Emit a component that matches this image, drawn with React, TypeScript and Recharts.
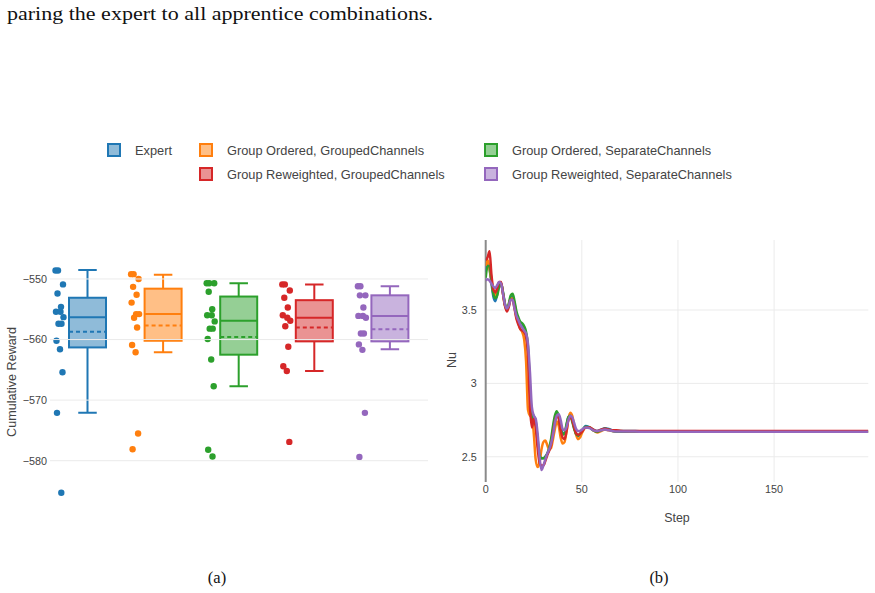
import React from 'react';
import {
  ComposedChart,
  Bar,
  XAxis,
  YAxis,
  LineChart,
  Line,
  ReferenceLine,
} from 'recharts';

// ---------- series ----------
const groupNames = [
  'Expert',
  'Group Ordered, GroupedChannels',
  'Group Ordered, SeparateChannels',
  'Group Reweighted, GroupedChannels',
  'Group Reweighted, SeparateChannels',
];
const groupColors = ['#1f77b4', '#ff7f0e', '#2ca02c', '#d62728', '#9467bd'];
const groupFills = [
  'rgba(31,119,180,0.5)',
  'rgba(255,127,14,0.5)',
  'rgba(44,160,44,0.5)',
  'rgba(214,39,40,0.5)',
  'rgba(148,103,189,0.5)',
];

// ---------- (a) cumulative reward box statistics ----------
const upperFence = [-548.5, -549.3, -550.7, -550.9, -551.2];
const q3 = [-553.1, -551.6, -552.9, -553.5, -552.7];
const median = [-556.3, -555.8, -556.9, -556.4, -556.1];
const mean = [-558.7, -557.7, -559.6, -558.0, -558.3];
const q1 = [-561.3, -560.2, -562.5, -560.3, -560.3];
const lowerFence = [-572.1, -562.1, -567.7, -565.2, -561.6];

const expertRewards = [-548.6, -548.6, -550.9, -552.4, -554.6, -555.4, -555.4, -556.3, -557.4, -557.4, -560.2, -561.6, -565.4, -572.1, -585.3];
const orderedGroupedRewards = [-549.2, -549.2, -550.0, -551.3, -552.6, -553.9, -555.8, -555.8, -556.4, -558.0, -560.9, -562.1, -575.5, -578.1];
const orderedSeparateRewards = [-550.7, -550.7, -550.7, -552.1, -555.0, -556.0, -556.0, -557.0, -558.2, -558.2, -559.9, -563.3, -567.7, -578.2, -579.3];
const reweightedGroupedRewards = [-550.9, -550.9, -551.9, -553.1, -554.7, -556.0, -556.4, -556.9, -557.8, -561.2, -564.4, -565.2, -576.9];
const reweightedSeparateRewards = [-551.2, -551.2, -552.7, -552.7, -554.7, -556.1, -556.1, -556.4, -559.0, -559.0, -560.8, -561.7, -572.1, -579.4];
const rewardPoints = [
  expertRewards,
  orderedGroupedRewards,
  orderedSeparateRewards,
  reweightedGroupedRewards,
  reweightedSeparateRewards,
];
const rewardTicks = [-580, -570, -560, -550];

// ---------- (b) Nusselt number over the episode ----------
const steps = [
  0, 1, 2, 3, 4, 5, 6, 7, 8, 9, 10, 11, 12, 13, 14, 15, 16, 17, 18, 19, 20,
  21, 22, 23, 24, 25, 26, 27, 28, 29, 30, 31, 32, 33, 34, 35, 36, 37, 38, 39, 40,
  41, 42, 43, 44, 45, 46, 47, 48, 49, 50, 52, 54, 56, 58, 60, 62, 64, 66, 68, 70,
  75, 80, 90, 100, 120, 150, 199,
];
const expertNu = [
  3.76, 3.82, 3.78, 3.68, 3.59, 3.56, 3.61, 3.67, 3.68, 3.62, 3.54,
  3.50, 3.53, 3.58, 3.59, 3.54, 3.47, 3.43, 3.40, 3.39, 3.37,
  3.33, 3.22, 2.95, 2.79, 2.78, 2.74, 2.62, 2.52, 2.49, 2.49,
  2.50, 2.52, 2.55, 2.60, 2.68, 2.76, 2.80, 2.78, 2.71, 2.66,
  2.66, 2.71, 2.77, 2.78, 2.75, 2.70, 2.66, 2.64, 2.65, 2.67,
  2.71, 2.70, 2.685, 2.675, 2.685, 2.695, 2.69, 2.68, 2.675, 2.675,
  2.676, 2.674, 2.673, 2.672, 2.672, 2.672, 2.672,
];
const orderedGroupedNu = [
  3.80, 3.84, 3.78, 3.70, 3.62, 3.60, 3.63, 3.68, 3.68, 3.61, 3.53,
  3.51, 3.54, 3.58, 3.58, 3.52, 3.45, 3.41, 3.37, 3.35, 3.30,
  3.15, 2.82, 2.78, 2.77, 2.66, 2.48, 2.43, 2.46, 2.55, 2.60,
  2.61, 2.58, 2.55, 2.56, 2.62, 2.69, 2.74, 2.71, 2.63, 2.59,
  2.60, 2.67, 2.76, 2.80, 2.78, 2.71, 2.65, 2.62, 2.63, 2.66,
  2.70, 2.70, 2.68, 2.665, 2.675, 2.685, 2.68, 2.675, 2.67, 2.67,
  2.672, 2.671, 2.671, 2.671, 2.671, 2.671, 2.671,
];
const orderedSeparateNu = [
  3.72, 3.80, 3.80, 3.70, 3.61, 3.58, 3.60, 3.66, 3.68, 3.62, 3.54,
  3.50, 3.54, 3.60, 3.61, 3.56, 3.49, 3.45, 3.42, 3.41, 3.39,
  3.35, 3.25, 2.98, 2.77, 2.74, 2.73, 2.60, 2.51, 2.49, 2.49,
  2.50, 2.52, 2.56, 2.62, 2.71, 2.78, 2.81, 2.77, 2.69, 2.65,
  2.66, 2.72, 2.77, 2.78, 2.74, 2.69, 2.655, 2.645, 2.655, 2.675,
  2.705, 2.70, 2.68, 2.67, 2.68, 2.69, 2.685, 2.675, 2.67, 2.67,
  2.672, 2.672, 2.671, 2.671, 2.671, 2.671, 2.671,
];
const reweightedGroupedNu = [
  3.84, 3.86, 3.90, 3.74, 3.64, 3.62, 3.65, 3.69, 3.69, 3.61, 3.53,
  3.49, 3.52, 3.57, 3.57, 3.51, 3.44, 3.40, 3.37, 3.36, 3.35,
  3.32, 3.20, 2.85, 2.70, 2.76, 2.70, 2.56, 2.46, 2.44, 2.44,
  2.47, 2.51, 2.54, 2.58, 2.66, 2.74, 2.78, 2.76, 2.68, 2.63,
  2.62, 2.67, 2.75, 2.77, 2.75, 2.70, 2.66, 2.65, 2.655, 2.67,
  2.70, 2.70, 2.685, 2.675, 2.685, 2.69, 2.685, 2.68, 2.68, 2.678,
  2.676, 2.675, 2.675, 2.675, 2.675, 2.675, 2.675,
];
const reweightedSeparateNu = [
  3.70, 3.71, 3.70, 3.68, 3.66, 3.65, 3.67, 3.69, 3.68, 3.61, 3.54,
  3.51, 3.53, 3.57, 3.57, 3.51, 3.46, 3.43, 3.40, 3.38, 3.36,
  3.34, 3.27, 3.08, 2.84, 2.78, 2.76, 2.66, 2.50, 2.41, 2.44,
  2.48, 2.52, 2.55, 2.59, 2.65, 2.73, 2.78, 2.79, 2.75, 2.69,
  2.68, 2.70, 2.75, 2.78, 2.77, 2.73, 2.69, 2.675, 2.675, 2.685,
  2.70, 2.695, 2.68, 2.675, 2.68, 2.685, 2.68, 2.675, 2.672, 2.672,
  2.672, 2.671, 2.671, 2.671, 2.671, 2.671, 2.671,
];
const nuSeries = [
  expertNu,
  orderedGroupedNu,
  orderedSeparateNu,
  reweightedGroupedNu,
  reweightedSeparateNu,
];
const stepTicks = [0, 50, 100, 150];
const nuTicks = [2.5, 3, 3.5];

// ---------- tables built for recharts ----------
const boxRows = groupNames.map((name, i) => ({
  name,
  box: [q1[i], q3[i]],
  q1: q1[i],
  q3: q3[i],
  median: median[i],
  mean: mean[i],
  hi: upperFence[i],
  lo: lowerFence[i],
  points: rewardPoints[i],
  idx: i,
}));

const nuRows = steps.map((step, k) => {
  const row: Record<string, number> = { step };
  nuSeries.forEach((s, i) => {
    row['s' + i] = s[k];
  });
  return row;
});

// ---------- styling ----------
const SANS = '"Liberation Sans", Arial, Helvetica, sans-serif';
const SERIF = '"Liberation Serif", "DejaVu Serif", serif';
const TEXT = '#444';
const GRID = '#ebebeb';
const POINT_SHIFT = -28; // strip of raw points sits left of each box
const JITTER = [-4, -1.5, 3.5, -2, 1.5, -3.5, 1, 4, -1, 2, -3, 0.5, 3, -2.5, 1.8];

const minusFmt = (v: number) => String(v).replace('-', '\u2212');

function BoxShape(props: any) {
  const { x, y, width, height, payload } = props;
  const top = Math.min(y, y + height);
  const h = Math.abs(height);
  const p = payload;
  const toY = (v: number) => top + ((p.q3 - v) / (p.q3 - p.q1)) * h;
  const cx = x + width / 2;
  const color = groupColors[p.idx];
  const cap = width / 4;
  return (
    <g>
      {/* whiskers */}
      <line x1={cx} x2={cx} y1={toY(p.hi)} y2={toY(p.q3)} stroke={color} strokeWidth={2} />
      <line x1={cx} x2={cx} y1={toY(p.q1)} y2={toY(p.lo)} stroke={color} strokeWidth={2} />
      <line x1={cx - cap} x2={cx + cap} y1={toY(p.hi)} y2={toY(p.hi)} stroke={color} strokeWidth={2} />
      <line x1={cx - cap} x2={cx + cap} y1={toY(p.lo)} y2={toY(p.lo)} stroke={color} strokeWidth={2} />
      {/* box */}
      <rect x={x} y={top} width={width} height={h} fill={groupFills[p.idx]} stroke={color} strokeWidth={2} />
      <line x1={x} x2={x + width} y1={toY(p.median)} y2={toY(p.median)} stroke={color} strokeWidth={2} />
      <line
        x1={x}
        x2={x + width}
        y1={toY(p.mean)}
        y2={toY(p.mean)}
        stroke={color}
        strokeWidth={2}
        strokeDasharray="4,3"
      />
      {/* raw samples */}
      {p.points.map((v: number, k: number) => (
        <circle
          key={k}
          cx={cx + POINT_SHIFT + JITTER[k % JITTER.length]}
          cy={toY(v)}
          r={3.2}
          fill={color}
        />
      ))}
    </g>
  );
}

function LegendItem({ i, left, top }: { i: number; left: number; top: number }) {
  return (
    <div
      style={{
        position: 'absolute',
        left,
        top,
        display: 'flex',
        alignItems: 'center',
        height: 16,
        fontFamily: SANS,
        fontSize: 12.8,
        color: TEXT,
        whiteSpace: 'nowrap',
      }}
    >
      <div
        style={{
          width: 10,
          height: 10,
          border: `2px solid ${groupColors[i]}`,
          background: groupFills[i],
          marginRight: 14,
        }}
      />
      <span>{groupNames[i]}</span>
    </div>
  );
}

export default function App() {
  return (
    <div
      style={{
        position: 'absolute',
        left: 0,
        top: 0,
        width: 875,
        height: 593,
        background: '#fff',
        overflow: 'hidden',
      }}
    >
      <svg width={875} height={593} style={{ position: 'absolute', left: 0, top: 0 }}>
        <text
          x={7}
          y={20}
          fontFamily={SERIF}
          fontSize={18.5}
          fill="#111"
          textLength={426}
          lengthAdjust="spacingAndGlyphs"
        >
          paring the expert to all apprentice combinations.
        </text>
        <text
          x={12}
          y={382}
          transform="rotate(-90 12 382)"
          textAnchor="middle"
          dominantBaseline="central"
          fontFamily={SANS}
          fontSize={12.6}
          fill={TEXT}
        >
          Cumulative Reward
        </text>
        <text
          x={452}
          y={360}
          transform="rotate(-90 452 360)"
          textAnchor="middle"
          dominantBaseline="central"
          fontFamily={SANS}
          fontSize={12.6}
          fill={TEXT}
        >
          Nu
        </text>
        <text x={677} y={518} textAnchor="middle" dominantBaseline="central" fontFamily={SANS} fontSize={12.4} fill={TEXT}>
          Step
        </text>
        <text x={217} y={583} textAnchor="middle" fontFamily={SERIF} fontSize={16.5} fill="#111">
          (a)
        </text>
        <text x={659} y={583} textAnchor="middle" fontFamily={SERIF} fontSize={16.5} fill="#111">
          (b)
        </text>
      </svg>

      <LegendItem i={0} left={107} top={142} />
      <LegendItem i={1} left={199} top={142} />
      <LegendItem i={2} left={484} top={142} />
      <LegendItem i={3} left={199} top={166} />
      <LegendItem i={4} left={484} top={166} />

      <div style={{ position: 'absolute', left: 0, top: 230 }}>
        <ComposedChart
          width={440}
          height={310}
          data={boxRows}
          margin={{ top: 30.8, right: 12, bottom: 36.9, left: 0 }}
        >
          <XAxis dataKey="name" hide />
          <YAxis
            type="number"
            domain={[-587, -547]}
            ticks={rewardTicks}
            allowDataOverflow
            width={50}
            axisLine={false}
            tickLine={false}
            tickSize={0}
            tickMargin={3}
            tickFormatter={minusFmt}
            tick={{ fill: TEXT, fontSize: 10.8, fontFamily: SANS }}
          />
          {rewardTicks.map((t) => (
            <ReferenceLine key={t} y={t} stroke={GRID} strokeWidth={1} />
          ))}
          <Bar dataKey="box" barSize={37} shape={<BoxShape />} isAnimationActive={false} />
        </ComposedChart>
      </div>

      <div style={{ position: 'absolute', left: 440, top: 220 }}>
        <LineChart
          width={435}
          height={320}
          data={nuRows}
          margin={{ top: 20, right: 6.7, bottom: 28, left: 0 }}
        >
          <XAxis
            dataKey="step"
            type="number"
            domain={[0, 199]}
            ticks={stepTicks}
            allowDataOverflow
            height={30}
            axisLine={false}
            tickLine={false}
            tickSize={0}
            tickMargin={3}
            tick={{ fill: TEXT, fontSize: 10.8, fontFamily: SANS }}
          />
          <YAxis
            type="number"
            domain={[2.328, 3.977]}
            ticks={nuTicks}
            allowDataOverflow
            width={45.7}
            axisLine={false}
            tickLine={false}
            tickSize={0}
            tickMargin={9}
            tick={{ fill: TEXT, fontSize: 10.8, fontFamily: SANS }}
          />
          {nuTicks.map((t) => (
            <ReferenceLine key={'h' + t} y={t} stroke={GRID} strokeWidth={1} />
          ))}
          {stepTicks.filter((t) => t > 0).map((t) => (
            <ReferenceLine key={'v' + t} x={t} stroke={GRID} strokeWidth={1} />
          ))}
          <ReferenceLine x={0} stroke="#8a8a8a" strokeWidth={2} />
          {groupNames.map((name, i) => (
            <Line
              key={name}
              name={name}
              dataKey={'s' + i}
              type="monotone"
              stroke={groupColors[i]}
              strokeWidth={2.5}
              dot={false}
              isAnimationActive={false}
            />
          ))}
        </LineChart>
      </div>
    </div>
  );
}
